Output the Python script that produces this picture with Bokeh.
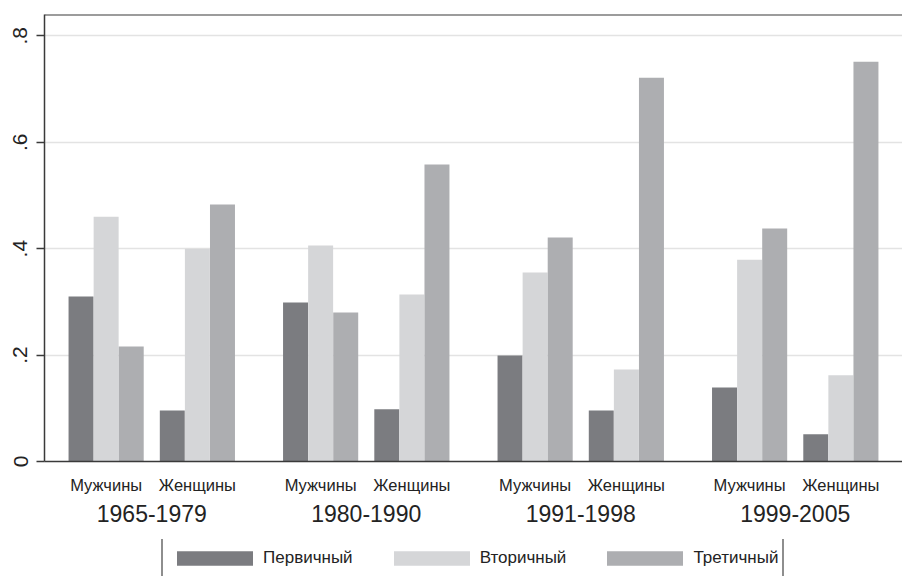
import math
from bokeh.plotting import figure
from bokeh.layouts import column
from bokeh.models import (ColumnDataSource, FactorRange, Range1d, FixedTicker,
                          CustomJSTickFormatter, Legend, LegendItem, Span)
from bokeh.transform import dodge
from bokeh.embed import file_html
from bokeh.resources import INLINE

# ---- data ----
periods = ["1965-1979", "1980-1990", "1991-1998", "1999-2005"]
sexes = ["Мужчины", "Женщины"]
levels = ["Первичный", "Вторичный", "Третичный"]

primary   = [0.310, 0.096, 0.299, 0.098, 0.199, 0.096, 0.139, 0.051]
secondary = [0.460, 0.400, 0.406, 0.314, 0.355, 0.173, 0.379, 0.162]
tertiary  = [0.216, 0.483, 0.280, 0.558, 0.421, 0.721, 0.438, 0.751]

y_ticks = [0, 0.2, 0.4, 0.6, 0.8]
y_tick_labels = ["0", ".2", ".4", ".6", ".8"]

# ---- style ----
FONT = "Liberation Sans"
TEXT = "#232323"
AXIS = "#3a3a3a"
colors = ["#7b7c80", "#d5d6d8", "#adaeb1"]
W = 902

factors = [(pr, sx) for pr in periods for sx in sexes]
src = ColumnDataSource(dict(x=factors, primary=primary, secondary=secondary, tertiary=tertiary))

x_range = FactorRange(*factors, factor_padding=0.2125, group_padding=0.6375,
                      range_padding=0.319, range_padding_units="absolute")
y_range = Range1d(0, 0.84)

p = figure(x_range=x_range, y_range=y_range, width=W, height=539,
           output_backend="svg", toolbar_location=None,
           min_border_left=44, min_border_top=14, min_border_right=0, min_border_bottom=78)
p.outline_line_color = None
p.background_fill_color = "white"
p.border_fill_color = "white"

renderers = []
for col, off, c in zip(["primary", "secondary", "tertiary"], [-1/3, 0, 1/3], colors):
    r = p.vbar(x=dodge("x", off, range=p.x_range), top=col, width=0.332,
               source=src, fill_color=c, line_color=None)
    renderers.append(r)

# top border
p.add_layout(Span(location=0.84, dimension="width", line_color=AXIS, line_width=2))

# grid
p.xgrid.grid_line_color = None
p.ygrid.grid_line_color = "#e3e3e3"
p.ygrid.grid_line_width = 1.5

# y axis
ya = p.yaxis[0]
ya.ticker = FixedTicker(ticks=y_ticks)
ya.formatter = CustomJSTickFormatter(args=dict(vals=y_ticks, labs=y_tick_labels), code="""
for (let i = 0; i < vals.length; i++) { if (Math.abs(tick - vals[i]) < 1e-9) return labs[i]; }
return '';
""")
ya.major_label_orientation = "vertical"
ya.major_label_text_font = FONT
ya.major_label_text_font_size = "21px"
ya.major_label_text_color = TEXT
ya.major_label_standoff = 9
ya.major_tick_out = 8
ya.major_tick_in = 0
ya.major_tick_line_color = AXIS
ya.major_tick_line_width = 1.5
ya.minor_tick_line_color = None
ya.axis_line_color = AXIS
ya.axis_line_width = 1.5

# x axis
xa = p.xaxis[0]
xa.major_tick_line_color = None
xa.minor_tick_line_color = None
xa.axis_line_color = AXIS
xa.axis_line_width = 1.5
xa.major_label_text_font = FONT
xa.major_label_text_font_size = "16.5px"
xa.major_label_text_color = TEXT
xa.major_label_standoff = 8
xa.group_text_font = FONT
xa.group_text_font_size = "23px"
xa.group_text_font_style = "normal"
xa.group_text_color = TEXT
xa.separator_line_color = None

# ---- legend strip below ----
lf = figure(width=W, height=37, x_range=Range1d(0, 1), y_range=Range1d(0, 1),
            output_backend="svg", toolbar_location=None,
            x_axis_location=None, y_axis_location=None,
            min_border_left=44, min_border_right=0,
            min_border_top=0, min_border_bottom=0)
lf.outline_line_color = None
lf.grid.grid_line_color = None
lf.background_fill_color = "white"
lf.border_fill_color = "white"

leg_renderers = []
for c in colors:
    leg_renderers.append(lf.vbar(x=[-10], top=[0], width=0.1, fill_color=c, line_color=None))

legend = Legend(items=[LegendItem(label=lab, renderers=[r]) for lab, r in zip(levels, leg_renderers)],
                orientation="horizontal", location=(117, -3),
                glyph_width=95, glyph_height=18, label_height=30,
                label_standoff=1, spacing=31,
                padding=4, margin=0,
                border_line_color="#1e1e1e", border_line_width=2,
                label_text_font=FONT, label_text_font_size="17px", label_text_color=TEXT)
lf.add_layout(legend, "center")

layout = column(p, lf, spacing=0)
open("out.html", "w").write(file_html(layout, INLINE))
